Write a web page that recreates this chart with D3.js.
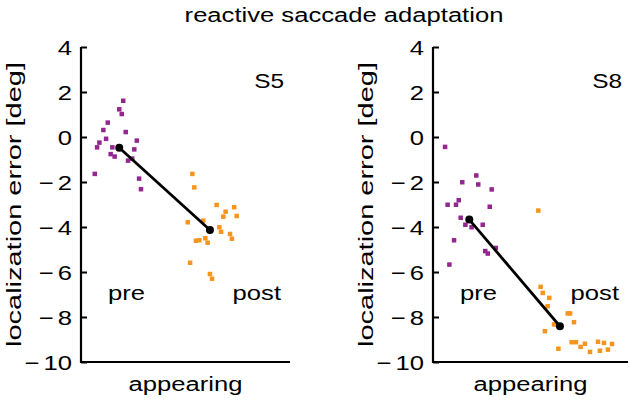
<!DOCTYPE html>
<html><head><meta charset="utf-8">
<script src="https://cdn.jsdelivr.net/npm/d3@7"></script>
<style>body{margin:0;background:#fff}svg{display:block}text{font-family:"Liberation Sans",Arial,sans-serif;fill:#000}</style>
</head><body><svg id="c" width="640" height="401"></svg>
<script>
const title = "reactive saccade adaptation";
const yTicks = [4, 2, 0, -2, -4, -6, -8, -10];
const subjects = ["S5", "S8"];
// [x position (arb. units 0-10), localization error deg]
const s5Pre = [[2.02,1.61],[1.83,1.23],[1.95,1.02],[1.28,0.64],[1.07,0.31],[2.14,0.22],[1.20,-0.08],[0.88,-0.25],[0.77,-0.46],[2.67,-0.16],[1.50,-0.46],[2.55,-0.55],[1.42,-0.76],[1.61,-0.87],[2.45,-0.96],[2.25,-1.05],[0.66,-1.64],[2.78,-1.85],[2.87,-2.32]];
const s5Post = [[5.33,-1.64],[5.42,-2.24],[6.49,-3.02],[7.33,-3.12],[6.92,-3.32],[6.81,-3.54],[7.45,-3.51],[5.11,-3.79],[5.85,-3.72],[6.62,-4.01],[6.70,-4.21],[7.13,-4.31],[7.22,-4.52],[5.50,-4.61],[5.66,-4.59],[5.95,-4.50],[6.06,-4.70],[5.22,-5.59],[6.17,-6.09],[6.27,-6.30]];
const s5Mean = [[1.83,-0.48],[6.17,-4.13]];
const s8Pre = [[0.62,-0.44],[2.22,-1.71],[1.50,-2.01],[2.32,-2.11],[3.01,-2.33],[1.32,-2.81],[0.75,-3.01],[1.18,-3.01],[2.91,-3.10],[1.42,-3.59],[1.66,-3.90],[1.98,-4.01],[2.55,-3.90],[1.08,-4.59],[2.68,-5.07],[2.81,-5.18],[3.22,-4.93],[0.84,-5.67]];
const s8Post = [[5.40,-3.27],[5.52,-6.66],[5.63,-6.93],[5.96,-7.15],[5.88,-7.52],[6.91,-7.84],[7.03,-7.84],[7.23,-8.23],[6.21,-8.33],[5.74,-8.63],[7.11,-9.12],[7.33,-9.12],[7.79,-9.19],[7.57,-9.33],[6.43,-9.41],[8.46,-9.10],[8.77,-9.15],[9.18,-9.20],[8.97,-9.45],[8.56,-9.50],[8.05,-9.55]];
const s8Mean = [[1.86,-3.67],[6.51,-8.41]];
const xLabel = "appearing", yLabel = "localization error [deg]";
const condLabels = ["pre", "post"];

const purple = "#93278f", orange = "#f7941d";
const SX = 1.22;
const svg = d3.select("#c");
function txt(g, x, y, str, size, anchor) {
  return g.append("text").attr("transform", `translate(${x},${y}) scale(${SX},1)`)
    .attr("text-anchor", anchor).style("font-size", size + "px").text(str);
}
txt(svg, 344, 22, title, 21, "middle");

const panels = [
  {x0: 81, x1: 290, name: subjects[0], pre: s5Pre, post: s5Post, mean: s5Mean, ylx: 14},
  {x0: 433, x1: 628, name: subjects[1], pre: s8Pre, post: s8Post, mean: s8Mean, ylx: 366}
];
const y = d3.scaleLinear().domain([-10, 4]).range([362, 47]);
panels.forEach(p => {
  const x = d3.scaleLinear().domain([0, 10]).range([p.x0, p.x1]);
  const g = svg.append("g");
  const ax = g.append("g").attr("transform", `translate(${p.x0},0)`)
    .call(d3.axisRight(y).tickValues(yTicks).tickSize(6).tickFormat(""));
  ax.select(".domain").remove();
  ax.selectAll(".tick line").attr("stroke", "#000").attr("stroke-width", 2);
  yTicks.forEach(t => {
    txt(g, p.x0 - 9, y(t) + 7.5, Math.abs(t), 21, "end");
    if (t < 0) {
      const w = String(Math.abs(t)).length * 21 * 0.556 * SX;
      txt(g, p.x0 - 9 - w - 4, y(t) + 7.5, "\u2212", 21, "end");
    }
  });
  g.append("path").attr("d", `M${p.x0},${y(4)}V${y(-10)}H${p.x1}`).attr("fill", "none").attr("stroke", "#000").attr("stroke-width", 2.2);
  const s = 4.5;
  g.selectAll(".pre").data(p.pre).join("rect").attr("class","pre").attr("x", d => x(d[0]) - s/2).attr("y", d => y(d[1]) - s/2).attr("width", s).attr("height", s).attr("fill", purple);
  g.selectAll(".post").data(p.post).join("rect").attr("class","post").attr("x", d => x(d[0]) - s/2).attr("y", d => y(d[1]) - s/2).attr("width", s).attr("height", s).attr("fill", orange);
  g.append("path").attr("d", d3.line().x(d => x(d[0])).y(d => y(d[1]))(p.mean)).attr("stroke", "#000").attr("stroke-width", 2.8).attr("fill", "none");
  g.selectAll(".m").data(p.mean).join("circle").attr("cx", d => x(d[0])).attr("cy", d => y(d[1])).attr("r", 4).attr("fill", "#000");
  txt(g, p.x1 - 6, 88, p.name, 20, "end");
  txt(g, p.x0 + 27, 300, condLabels[0], 21, "start");
  txt(g, p.x1 - 9, 300, condLabels[1], 21, "end");
  txt(g, (p.x0 + p.x1) / 2, 391, xLabel, 21, "middle");
  g.append("text").attr("transform", `translate(${p.ylx},${(y(4)+y(-10))/2}) rotate(-90)`)
    .attr("text-anchor", "middle").attr("dy", "0.35em").attr("textLength", 285).attr("lengthAdjust", "spacingAndGlyphs")
    .style("font-size", "21px").text(yLabel);
});
</script></body></html>
